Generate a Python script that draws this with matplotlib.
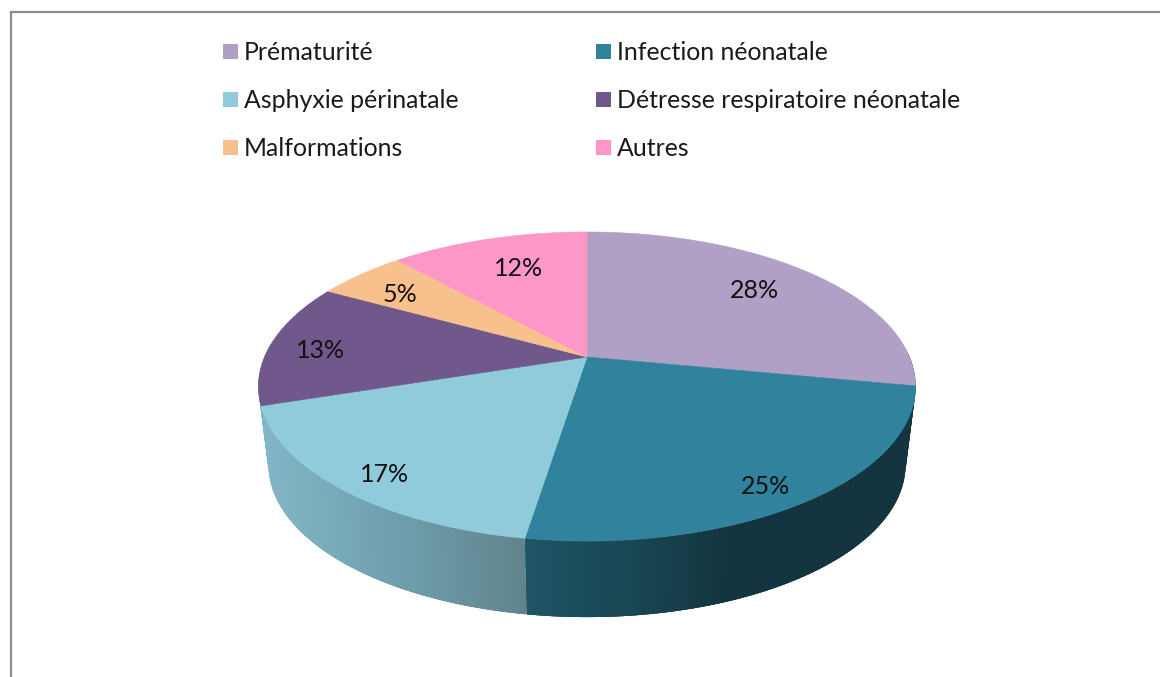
# Camembert 3D : causes de mortalité néonatale
import numpy as np
import matplotlib
matplotlib.use('Agg')
import matplotlib.pyplot as plt
from matplotlib.colors import to_rgb

plt.rcParams['font.family'] = ['Lato', 'DejaVu Sans']

categories = ['Prématurité', 'Infection néonatale', 'Asphyxie périnatale',
              'Détresse respiratoire néonatale', 'Malformations', 'Autres']
# parts estimées sur l'image (les étiquettes sont arrondies)
values = [28.0, 24.5, 17.5, 13.0, 5.3, 11.7]
pct_labels = ['28%', '25%', '17%', '13%', '5%', '12%']

colors = ['#b0a0c6', '#31829c', '#90cbdb', '#70588c', '#f8c08c', '#fd97c8']
label_xy = [(754, 290), (765, 486), (385, 474), (321, 351), (400, 295), (519, 268)]
legend_xy = [(223, 51), (596, 51), (223, 99), (596, 99), (223, 147), (596, 147)]

# couleurs du flanc selon x (dégradé), et limites angulaires visibles
side_stops = {
    1: ([525, 640, 730, 916], ['#1f5565', '#184552', '#14353f', '#14353f'], 88, None),
    2: ([262, 400, 525], ['#82b6c6', '#6f9eac', '#5f848e'], None, 275),
}


def project(theta, cx, cy, a, b, k=0.191):
    # disque vu en perspective, theta en sens horaire depuis le haut
    u, v = np.sin(theta), np.cos(theta)
    w = 1 + k * v
    return cx + b * u / w, cy - a * v / w


def top_rim(theta):
    return project(theta, 587, 357, 148.9, 322.5)


def bottom_rim(theta):
    return project(theta, 587, 436, 146.5, 312.6)


fig = plt.figure(figsize=(11.6, 6.77), dpi=100)
ax = fig.add_axes([0, 0, 1, 1])
ax.set_xlim(0, 1160)
ax.set_ylim(677, 0)
ax.axis('off')

# cadre gris (haut et gauche seulement)
ax.plot([10.5, 10.5, 1160], [677, 11.5, 11.5], color='#8c8c8c', lw=1.6,
        solid_joinstyle='miter')

edges = np.cumsum([0] + values) / sum(values) * 2 * np.pi

# flancs : tranches qui se recouvrent un peu pour éviter les rayures
for i, (xs, cols, lo, hi) in side_stops.items():
    start = edges[i] if lo is None else np.radians(lo)
    stop = edges[i + 1] if hi is None else np.radians(hi)
    th = np.linspace(start, stop, 220)
    rgb = np.array([to_rgb(c) for c in cols])
    for n in range(len(th) - 1):
        part = th[n:n + 4]
        x0, y0 = top_rim(part)
        x1, y1 = bottom_rim(part)
        mid = (x0[0] + x0[1]) / 2
        c = [np.interp(mid, xs, rgb[:, j]) for j in range(3)]
        ax.fill(np.r_[x0, x1[::-1]], np.r_[y0, y1[::-1]], color=c, lw=0)

# dessus
for i, col in enumerate(colors):
    th = np.linspace(edges[i], edges[i + 1], 200)
    x, y = top_rim(th)
    ax.fill(np.r_[587, x], np.r_[357, y], color=col, lw=0.4)

for txt, (x, y) in zip(pct_labels, label_xy):
    ax.text(x, y, txt, fontsize=18, color='#111111', ha='center', va='center')

# légende
for name, col, (x, y) in zip(categories, colors, legend_xy):
    ax.fill([x, x + 15, x + 15, x], [y - 7.5, y - 7.5, y + 7.5, y + 7.5], color=col, lw=0)
    ax.text(x + 21, y + 1, name, fontsize=17.9, color='#1a1a1a', ha='left', va='center')

fig.savefig('out.png', dpi=100)
